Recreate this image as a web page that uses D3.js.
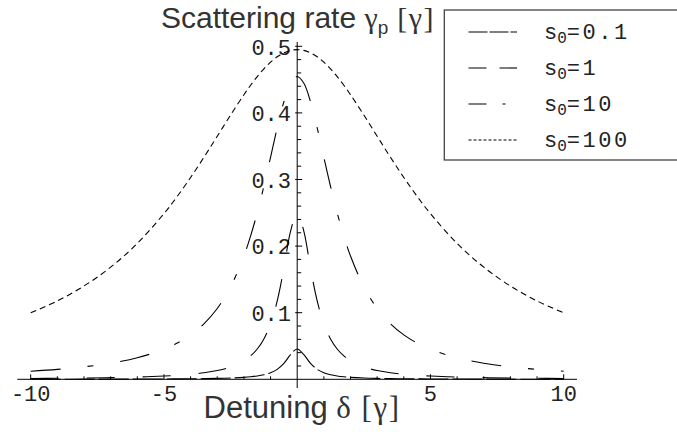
<!DOCTYPE html>
<html><head><meta charset="utf-8">
<script src="https://cdn.jsdelivr.net/npm/d3@7"></script>
<style>html,body{margin:0;padding:0;background:#fff;}svg{display:block;}</style>
</head><body>
<svg id="chart" width="677" height="432"></svg>
<script>
// Detuning values (x)
const deltas = [-10,-9,-8,-7,-6,-5,-4.5,-4,-3.5,-3,-2.5,-2,-1.75,-1.5,-1.25,-1,-0.75,-0.5,-0.25,0,
  0.25,0.5,0.75,1,1.25,1.5,1.75,2,2.5,3,3.5,4,4.5,5,6,7,8,9,10];
// Scattering rate read for each curve
const s01 = [0.000125,0.000154,0.000194,0.000254,0.000345,0.000495,0.000609,0.000768,0.000998,0.00135,0.00192,0.00292,0.00375,0.00495,0.0068,0.0098,0.01493,0.02381,0.03704,0.04545,
  0.03704,0.02381,0.01493,0.0098,0.0068,0.00495,0.00375,0.00292,0.00192,0.00135,0.000998,0.000768,0.000609,0.000495,0.000345,0.000254,0.000194,0.000154,0.000125];
const s1 = [0.00124,0.00153,0.00194,0.00253,0.00342,0.0049,0.00602,0.00758,0.0098,0.01316,0.01852,0.02778,0.03509,0.04545,0.06061,0.08333,0.11765,0.16667,0.22222,0.25,
  0.22222,0.16667,0.11765,0.08333,0.06061,0.04545,0.03509,0.02778,0.01852,0.01316,0.0098,0.00758,0.00602,0.0049,0.00342,0.00253,0.00194,0.00153,0.00124];
const s10 = [0.01217,0.01493,0.01873,0.02415,0.03226,0.04505,0.05435,0.06667,0.08333,0.10638,0.13889,0.18519,0.21505,0.25,0.28986,0.33333,0.37736,0.41667,0.44444,0.45455,
  0.44444,0.41667,0.37736,0.33333,0.28986,0.25,0.21505,0.18519,0.13889,0.10638,0.08333,0.06667,0.05435,0.04505,0.03226,0.02415,0.01873,0.01493,0.01217];
const s100 = [0.0998,0.11765,0.14006,0.16835,0.20408,0.24876,0.27473,0.30303,0.33333,0.36496,0.39683,0.42735,0.4415,0.45455,0.4662,0.47619,0.48426,0.4902,0.49383,0.49505,
  0.49383,0.4902,0.48426,0.47619,0.4662,0.45455,0.4415,0.42735,0.39683,0.36496,0.33333,0.30303,0.27473,0.24876,0.20408,0.16835,0.14006,0.11765,0.0998];
const seriesSub = ["0.1","1","10","100"];
const xMajorTicks = [-10,-5,5,10];
const xTickLabels = ["-10","-5","5","10"];
const yMajorTicks = [0.1,0.2,0.3,0.4,0.5];
const yTickLabels = ["0.1","0.2","0.3","0.4","0.5"];

const svg = d3.select("#chart");
const x = d3.scaleLinear().domain([-10,10]).range([30.7,563.7]);
const y = d3.scaleLinear().domain([0,0.5]).range([379.3,46.3]);
const ink = "#000";
const mono = "'Liberation Mono','Courier New',monospace";
const sans = "'Liberation Sans',Arial,sans-serif";
const serif = "'Liberation Serif','Times New Roman',serif";

// axes
const gAx = svg.append("g").attr("stroke", ink).attr("stroke-width", 1).attr("fill","none");
gAx.append("line").attr("x1", 17.3).attr("x2", 577).attr("y1", y(0)).attr("y2", y(0));
gAx.append("line").attr("x1", x(0)).attr("x2", x(0)).attr("y1", 42).attr("y2", 388);
d3.range(-10, 11, 1).filter(d => d !== 0).forEach(d => {
  const major = xMajorTicks.includes(d);
  gAx.append("line").attr("x1", x(d)).attr("x2", x(d))
    .attr("y1", y(0)).attr("y2", y(0) - (major ? 5 : 3));
});
d3.range(1, 26).map(i => i * 0.02).forEach(v => {
  const major = yMajorTicks.some(t => Math.abs(t - v) < 1e-9);
  gAx.append("line").attr("x1", x(0) - (major ? 2 : 0)).attr("x2", x(0) + (major ? 5 : 4))
    .attr("y1", y(v)).attr("y2", y(v));
});

// tick labels
const gT = svg.append("g").attr("font-family", mono).attr("font-size", 22).attr("fill", "#222");
xMajorTicks.forEach((d, i) => {
  gT.append("text").attr("x", x(d)).attr("y", 401).attr("text-anchor", "middle").text(xTickLabels[i]);
});
yMajorTicks.forEach((d, i) => {
  gT.append("text").attr("x", 291).attr("y", y(d)).attr("dy", "0.38em").attr("text-anchor", "end").text(yTickLabels[i]);
});

// titles
const t1 = svg.append("text").attr("x", 298).attr("y", 27.5).attr("text-anchor", "middle")
  .attr("font-family", sans).attr("font-size", 30).attr("fill", "#333");
t1.append("tspan").text("Scattering rate ");
t1.append("tspan").attr("font-family", serif).text("γ");
t1.append("tspan").attr("font-size", 19).attr("dy", 6).text("p");
t1.append("tspan").attr("dy", -6).attr("font-family", serif).attr("letter-spacing", 1.5).text(" [γ]");
const t2 = svg.append("text").attr("x", 302).attr("y", 418).attr("text-anchor", "middle")
  .attr("font-family", sans).attr("font-size", 31).attr("fill", "#333");
t2.append("tspan").text("Detuning ");
t2.append("tspan").attr("font-family", serif).attr("letter-spacing", 1.5).text("δ [γ]");

// curves
const dashes = ["30,4", "28,28", "30,27,6,27", "6,4"];
const allSeries = [s01, s1, s10, s100];
const line = d3.line().x(d => x(d[0])).y(d => y(d[1])).curve(d3.curveCatmullRom.alpha(0.5));
allSeries.forEach((vals, k) => {
  svg.append("path").datum(deltas.map((d, i) => [d, vals[i]]))
    .attr("d", line).attr("fill", "none").attr("stroke", ink).attr("stroke-width", 1.1)
    .attr("stroke-dasharray", dashes[k]);
});

// legend
const legDash = ["19,2", "18,13", "18,16,3,16", "3,2"];
const lg = svg.append("g");
lg.append("rect").attr("x", 444.3).attr("y", 10).attr("width", 260).attr("height", 150)
  .attr("fill", "#fff").attr("stroke", "#444").attr("stroke-width", 1.3);
const rowY = [32, 68, 104, 140];
seriesSub.forEach((s, i) => {
  lg.append("line").attr("x1", 468.5).attr("x2", 517).attr("y1", rowY[i]).attr("y2", rowY[i])
    .attr("stroke", ink).attr("stroke-width", 1.1).attr("stroke-dasharray", legDash[i]);
  const t = lg.append("text").attr("x", 544).attr("y", rowY[i] + 7)
    .attr("font-family", mono).attr("font-size", 22).attr("fill", "#222");
  t.append("tspan").text("s");
  t.append("tspan").attr("font-size", 16).attr("dy", 4).text("0");
  t.append("tspan").attr("dy", -4).attr("letter-spacing", 2.5).text("=" + s);
});
</script>
</body></html>
